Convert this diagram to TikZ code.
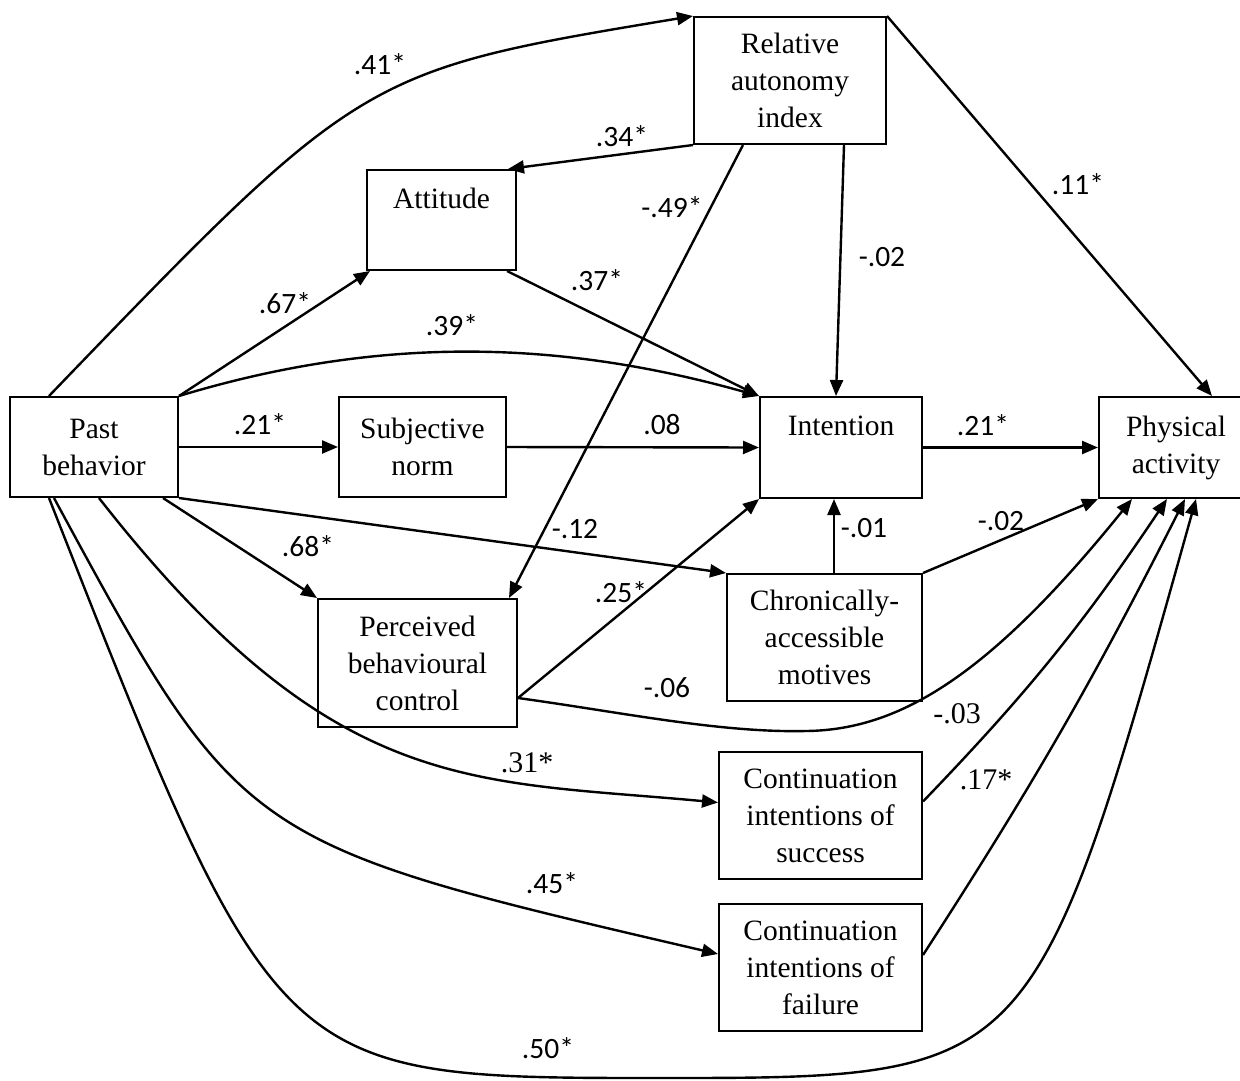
\documentclass[tikz,border=0pt]{standalone}
\usepackage{fontspec}
\setmainfont{Liberation Serif}
\newfontfamily\calibfam{Carlito}
\usetikzlibrary{arrows.meta}
\newcommand\bxfont{\fontsize{29.5}{37}\selectfont}
\newcommand\lbfont{\calibfam\fontsize{29.5}{34}\selectfont}
\newcommand\lbtfont{\fontsize{30}{34}\selectfont}
\begin{document}
\begin{tikzpicture}[x=1pt,y=-1pt,
  box/.style={draw,line width=2pt,inner sep=0pt,align=center,font=\bxfont},
  topbox/.style={box,text height=20pt,text depth=44pt},
  arr/.style={line width=2.4pt,-{Triangle[length=16pt,width=13pt]}},
  lab/.style={font=\lbfont,inner sep=0pt},
  labt/.style={font=\lbtfont,inner sep=0pt}]
\useasboundingbox (0,0) rectangle (1240,1080);
\fill[white] (0,0) rectangle (1240,1080);

% boxes
\node[box,minimum width=168pt,minimum height=100pt] (past) at (94,447) {Past\\behavior};
\node[topbox,minimum width=149pt,minimum height=100pt] (att) at (441.5,220) {Attitude};
\node[box,minimum width=167pt,minimum height=100pt] (sn) at (422.5,447) {Subjective\\norm};
\node[box,minimum width=192pt,minimum height=127pt] (rai) at (790,80.5) {Relative\\autonomy\\index};
\node[topbox,minimum width=162pt,minimum height=101pt] (int) at (841,447.5) {Intention};
\node[box,minimum width=154pt,minimum height=101pt] (pa) at (1176,447.5) {Physical\\activity};
\node[box,minimum width=195pt,minimum height=127pt] (cam) at (824.5,637.5) {Chronically-\\accessible\\motives};
\node[box,minimum width=199pt,minimum height=128pt] (pbc) at (417.5,663) {Perceived\\behavioural\\control};
\node[box,minimum width=203pt,minimum height=127pt] (cis) at (820.5,815.5) {Continuation\\intentions of\\success};
\node[box,minimum width=203pt,minimum height=127pt] (cif) at (820.5,967.5) {Continuation\\intentions of\\failure};

% connectors
\draw[arr] ([xshift=40pt]past.north west) .. controls (362,71) .. (rai.north west);
\draw[arr] (rai.south west) -- ([xshift=-9pt]att.north east);
\draw[arr] ([xshift=50pt]rai.south west) -- ([xshift=-9pt]pbc.north east);
\draw[arr] ([xshift=151pt]rai.south west) -- ([xshift=77pt]int.north west);
\draw[arr] (rai.north east) -- ([xshift=114pt]pa.north west);
\draw[arr] (past.north east) -- ([xshift=4pt]att.south west);
\draw[arr] ([xshift=-10pt]att.south east) -- (int.north west);
\draw[arr] (past.north east) .. controls (380,335) and (560,340) .. (int.north west);
\draw[arr] (past.east) -- (sn.west);
\draw[arr] (sn.east) -- (int.west);
\draw[arr] (int.east) -- (pa.west);
\draw[arr] ([xshift=-16pt]past.south east) -- (pbc.north west);
\draw[arr] (past.south east) -- (cam.north west);
\draw[arr] ([yshift=30pt]pbc.south east) -- (int.south west);
\draw[arr] ([xshift=108pt]cam.north west) -- ([xshift=75pt]int.south west);
\draw[arr] (cam.north east) -- (pa.south west);
\draw[arr] ([yshift=30pt]pbc.south east) .. controls (620,712) and (720,733) .. (806,731)
   .. controls (900,730) and (990,675) .. ([xshift=34pt]pa.south west);
\draw[arr] ([xshift=90pt]past.south west) .. controls (333,797) and (470,779.5) .. ([yshift=13pt]cis.west);
\draw[arr] ([xshift=45pt]past.south west) .. controls (241,843) .. ([yshift=13.5pt]cif.west);
\draw[arr] ([xshift=40pt]past.south west) .. controls (277,1078) .. (660,1078)
   .. controls (1034,1078) .. ([xshift=98pt]pa.south west);
\draw[arr] ([yshift=14pt]cis.east) to[bend right=5] ([xshift=69pt]pa.south west);
\draw[arr] ([yshift=12.5pt]cif.east) to[bend right=3] ([xshift=87pt]pa.south west);

% labels
\node[lab] (l41) at (380,64) {.41*};
\node[lab] (l34) at (622,136) {.34*};
\node[lab] (l49) at (672,207) {-.49*};
\node[lab] (l02a) at (882,257) {-.02};
\node[lab] (l11) at (1078,184) {.11*};
\node[lab] (l67) at (285,303) {.67*};
\node[lab] (l37) at (597,280) {.37*};
\node[lab] (l39) at (452,325) {.39*};
\node[lab] (l21a) at (260,424) {.21*};
\node[lab] (l08) at (662,425) {.08};
\node[lab] (l21b) at (983,425) {.21*};
\node[lab] (l68) at (308,546) {.68*};
\node[lab] (l12) at (575,529) {-.12};
\node[lab] (l25) at (621,592) {.25*};
\node[lab] (l01) at (864,528) {-.01};
\node[lab] (l02b) at (1001,521) {-.02};
\node[lab] (l06) at (667,688) {-.06};
\node[labt] (l03) at (957,714) {-.03};
\node[labt] (l17) at (986,780) {.17*};
\node[labt] (l31) at (527,763) {.31*};
\node[lab] (l45) at (552,883) {.45*};
\node[lab] (l50) at (548,1048) {.50*};
\end{tikzpicture}
\end{document}
